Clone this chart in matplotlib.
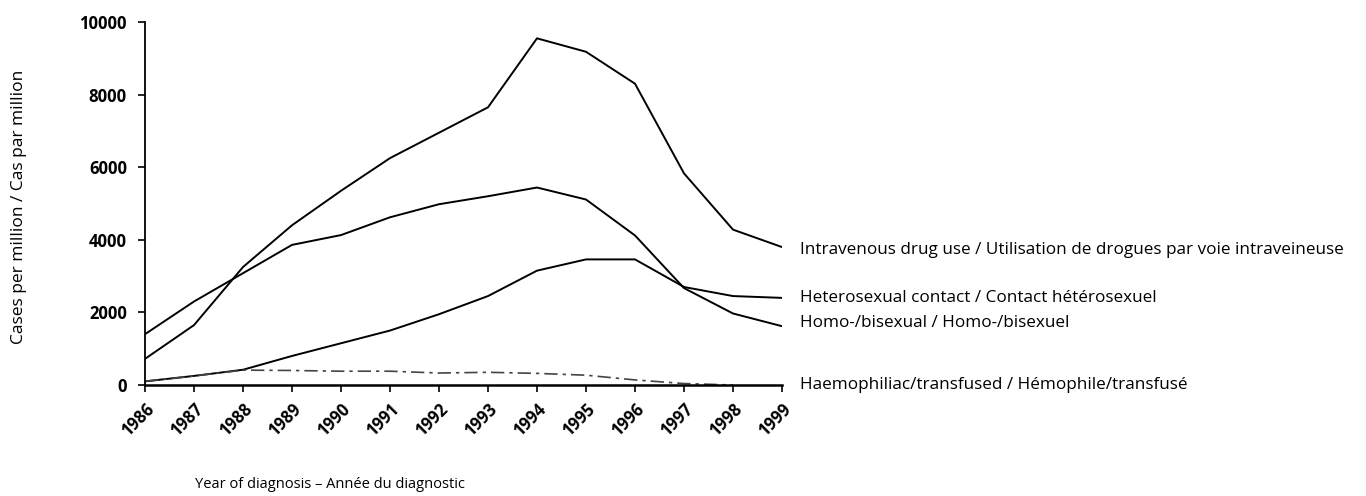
import matplotlib
matplotlib.use("Agg")
import matplotlib.pyplot as plt
import numpy as np

years = list(range(1986, 2000))
idu = [720, 1650, 3250, 4400, 5350, 6250, 6950, 7650, 9550, 9180, 8300, 5830, 4280, 3800]
homo_bi = [1400, 2300, 3080, 3860, 4130, 4620, 4980, 5200, 5440, 5110, 4120, 2670, 1970, 1620]
hetero = [100, 250, 420, 800, 1150, 1500, 1950, 2450, 3150, 3460, 3460, 2700, 2450, 2400]
haemo = [100, 250, 410, 400, 380, 380, 330, 350, 320, 270, 140, 40, 0, np.nan]

labels = [
    "Intravenous drug use / Utilisation de drogues par voie intraveineuse",
    "Heterosexual contact / Contact hétérosexuel",
    "Homo-/bisexual / Homo-/bisexuel",
    "Haemophiliac/transfused / Hémophile/transfusé",
]
yticks = [0, 2000, 4000, 6000, 8000, 10000]

plt.rcParams['font.family'] = ['Open Sans', 'DejaVu Sans']

fig = plt.figure(figsize=(13.66, 4.96), dpi=100)
ax = fig.add_axes([145/1366, 1 - 385/496, 637/1366, 363/496])

ax.plot(years, idu, color='black', lw=1.4)
ax.plot(years, homo_bi, color='black', lw=1.4)
ax.plot(years, hetero, color='black', lw=1.4)
ax.plot(years, haemo, color='#444444', lw=1.2, dashes=(8, 3, 2, 3))

ax.set_xlim(1986, 1999)
ax.set_ylim(0, 10000)
ax.set_yticks(yticks)
ax.set_yticklabels([str(v) for v in yticks], fontsize=12, fontweight='bold')
ax.set_xticks(years)
ax.set_xticklabels([str(y) for y in years], rotation=45, ha='right',
                   rotation_mode='anchor', fontsize=12, fontweight='bold')
for s in ['top', 'right']:
    ax.spines[s].set_visible(False)
ax.spines['left'].set_linewidth(1.3)
ax.spines['bottom'].set_linewidth(1.8)
ax.tick_params(axis='y', direction='out', length=5, width=1.2, pad=8)
ax.tick_params(axis='x', direction='out', length=5, width=1.2, pad=6)

ax.set_ylabel("Cases per million / Cas par million", fontsize=12.5)
ax.yaxis.set_label_coords((27 - 145) / 637, 0.49)
ax.set_xlabel("Year of diagnosis – Année du diagnostic", fontsize=10.5)
ax.xaxis.set_label_coords((330 - 145) / 637, (385 - 477) / 363)

label_vals = [idu[-1], hetero[-1], homo_bi[-1], 0]
label_offsets = [-80, 0, 80, 0]
for lab, v, off in zip(labels, label_vals, label_offsets):
    ax.annotate(lab, xy=(1999, v + off), xytext=(13, 0), textcoords='offset points',
                va='center', ha='left', fontsize=12.3, annotation_clip=False)

fig.savefig("out.png", dpi=100)
